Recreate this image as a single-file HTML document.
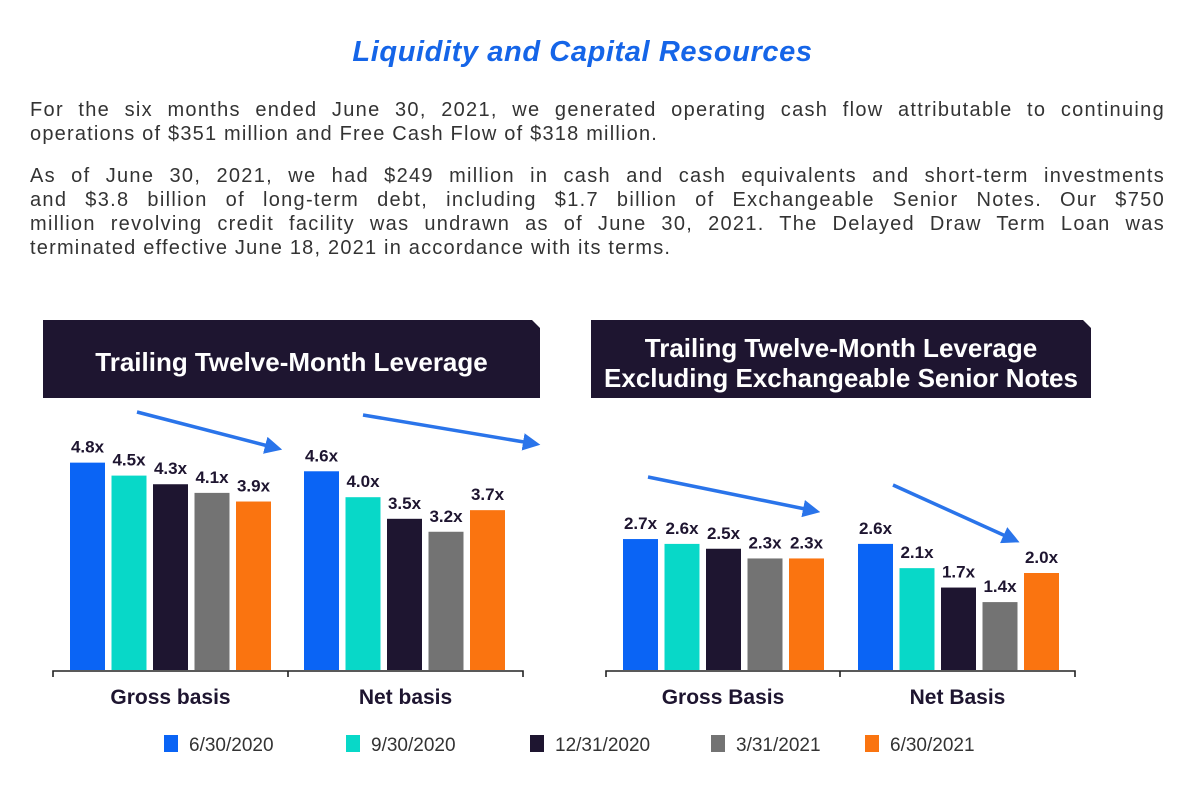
<!DOCTYPE html>
<html><head><meta charset="utf-8">
<style>
body{margin:0;background:#fff;width:1200px;height:808px;overflow:hidden;font-family:"Liberation Sans",sans-serif;}
.title{position:absolute;left:0;width:1165px;top:36px;text-align:center;color:#1565e8;font-style:italic;font-weight:bold;font-size:29px;letter-spacing:0.6px;}
.l{position:absolute;left:30px;width:1135px;font-size:20px;line-height:24px;color:#333;text-align:justify;text-align-last:justify;white-space:nowrap;letter-spacing:1.3px;}
.l.last{text-align-last:left;letter-spacing:1.2px;}
</style></head><body>
<div class="title">Liquidity and Capital Resources</div>
<div>
<div class="l" style="top:98px">For the six months ended June 30, 2021, we generated operating cash flow attributable to continuing</div>
<div class="l last" style="top:122px">operations of $351 million and Free Cash Flow of $318 million.</div>
</div>
<div>
<div class="l" style="top:164px">As of June 30, 2021, we had $249 million in cash and cash equivalents and short-term investments</div>
<div class="l" style="top:188px">and $3.8 billion of long-term debt, including $1.7 billion of Exchangeable Senior Notes. Our $750</div>
<div class="l" style="top:212px">million revolving credit facility was undrawn as of June 30, 2021. The Delayed Draw Term Loan was</div>
<div class="l last" style="top:236px">terminated effective June 18, 2021 in accordance with its terms.</div>
</div>
<svg id="c" width="1200" height="808" style="position:absolute;left:0;top:0">
<defs><marker id="ah" markerWidth="5" markerHeight="5" refX="2" refY="2.5" orient="auto" markerUnits="strokeWidth"><path d="M0,0 L5,2.5 L0,5 z" fill="#2a74ea"/></marker></defs>
</svg>
<script>
const series=["6/30/2020","9/30/2020","12/31/2020","3/31/2021","6/30/2021"];
const colors=["#0a64f5","#08d8c8","#1e1530","#737373","#fa7410"];
const leftCats=["Gross basis","Net basis"];
const leftGross=[4.8,4.5,4.3,4.1,3.9];
const leftNet=[4.6,4.0,3.5,3.2,3.7];
const rightCats=["Gross Basis","Net Basis"];
const rightGross=[2.7,2.6,2.5,2.3,2.3];
const rightNet=[2.6,2.1,1.7,1.4,2.0];
const svg=document.getElementById('c');const NS="http://www.w3.org/2000/svg";
function mk(t,a){const e=document.createElementNS(NS,t);for(const k in a)e.setAttribute(k,a[k]);svg.appendChild(e);return e;}
function header(x,w,lines,name){
  const p=mk('path',{d:`M${x},320 L${x+w-8},320 L${x+w},328 L${x+w},398 L${x},398 Z`,fill:'#1e1530'});
  
  
  lines.forEach((l,i)=>{const t=mk('text',{x:x+w/2,y:lines.length==1?371:357+i*30,'text-anchor':'middle',fill:'#fff','font-weight':'bold','font-size':26});t.textContent=l;
  
  });
}
function chart(opts){
  const base=670,sc=opts.scale;
  const yv=v=>base-v*sc;
  [opts.g1,opts.g2].forEach((vals,gi)=>{
    const x0=opts.starts[gi];
    vals.forEach((v,i)=>{
      const x=x0+i*41.5;
      const r=mk('rect',{x:x,y:yv(v),width:35,height:v*sc,fill:colors[i]});
      
      
      const t=mk('text',{x:x+17.5,y:yv(v)-10,'text-anchor':'middle','font-size':17,'font-weight':'bold',fill:'#1e1530'});
      t.textContent=v.toFixed(1)+'x';
      
      
    });
    const c=mk('text',{x:(opts.ax[gi]+opts.ax[gi+1])/2,y:704,'text-anchor':'middle','font-size':21,'font-weight':'bold',fill:'#1e1530'});
    c.textContent=opts.cats[gi];
    
    
  });
  const a=opts.ax;
  const l=mk('path',{d:`M${a[0]},677 L${a[0]},671 L${a[2]},671 L${a[2]},677 M${a[1]},671 L${a[1]},677`,stroke:'#222','stroke-width':1.6,fill:'none'});
  
  
  opts.arrows.forEach(ar=>{const e=mk('line',{x1:ar[0],y1:ar[1],x2:ar[2],y2:ar[3],stroke:'#2a74ea','stroke-width':3.5,'marker-end':'url(#ah)'});
    
    });
}
header(43,497,["Trailing Twelve-Month Leverage"],'left');
header(591,500,["Trailing Twelve-Month Leverage","Excluding Exchangeable Senior Notes"],'right');
chart({name:'left',scale:43.2,g1:leftGross,g2:leftNet,starts:[70,304],ax:[53,288,523],cats:leftCats,arrows:[[137,412,272,447],[363,415,530,443]]});
chart({name:'right',scale:48.5,g1:rightGross,g2:rightNet,starts:[623,858],ax:[606,840,1075],cats:rightCats,arrows:[[648,477,810,510],[893,485,1010,538]]});
const lx=[164,346,530,711,865];
series.forEach((s,i)=>{
  const r=mk('rect',{x:lx[i],y:735,width:14,height:17,fill:colors[i]});
  
  
  const t=mk('text',{x:lx[i]+25,y:751,'font-size':19,fill:'#333'});
  t.textContent=s;
  
  
});
</script>
</body></html>
